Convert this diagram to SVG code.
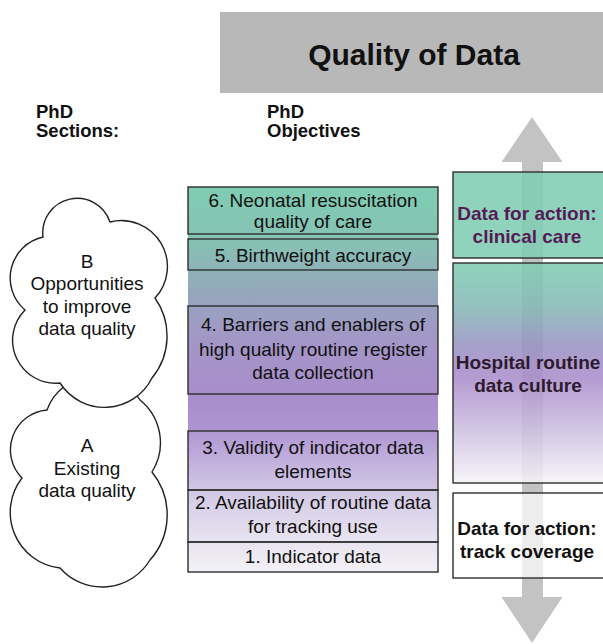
<svg xmlns="http://www.w3.org/2000/svg" width="603" height="644" viewBox="0 0 603 644">
<defs>
<linearGradient id="gCol" x1="0" y1="187" x2="0" y2="572" gradientUnits="userSpaceOnUse">
<stop offset="0" stop-color="#7fcdb3"/>
<stop offset="0.14" stop-color="#86c2b3"/>
<stop offset="0.22" stop-color="#8fb2b7"/>
<stop offset="0.3" stop-color="#98a3bf"/>
<stop offset="0.4" stop-color="#a396c7"/>
<stop offset="0.55" stop-color="#a98dcc"/>
<stop offset="0.63" stop-color="#ae95d0"/>
<stop offset="0.7" stop-color="#bfacdc"/>
<stop offset="0.79" stop-color="#d2c8e5"/>
<stop offset="0.92" stop-color="#e8e4f0"/>
<stop offset="1" stop-color="#f3f1f6"/>
</linearGradient>
<linearGradient id="gRight" x1="0" y1="263" x2="0" y2="483" gradientUnits="userSpaceOnUse">
<stop offset="0" stop-color="#80cdb3"/>
<stop offset="0.2" stop-color="#86b9b6"/>
<stop offset="0.38" stop-color="#9a92c4"/>
<stop offset="0.52" stop-color="#a98dcb"/>
<stop offset="0.72" stop-color="#c6b6de"/>
<stop offset="0.9" stop-color="#e5dfef"/>
<stop offset="1" stop-color="#f5f2f8"/>
</linearGradient>
</defs>
<style>
text{font-family:'Liberation Sans',Arial,sans-serif;fill:#111}
.h{font-weight:bold;font-size:18.5px}
.c{font-size:19px;text-anchor:middle}
.r{font-weight:bold;font-size:19px;text-anchor:middle}
.box{fill:none;stroke:#2e2e2e;stroke-width:1.4}
.cloud{fill:#fff;stroke:#222;stroke-width:1.4}
.rb{stroke:#2e2e2e;stroke-width:1.4}
</style>
<rect width="603" height="644" fill="#fff"/>

<g id="header">
<rect x="220" y="12" width="390" height="81" fill="#b8b8b8"/>
<text x="414" y="65" style="font-weight:bold;font-size:30px;text-anchor:middle">Quality of Data</text>
</g>

<g id="labels">
<text class="h" x="36" y="118">PhD</text>
<text class="h" x="36" y="137">Sections:</text>
<text class="h" x="267" y="118">PhD</text>
<text class="h" x="267" y="137">Objectives</text>
</g>

<g id="connectors">
<path id="arrow" d="M532,117 L562.5,162 L543,162 L543,597 L562.5,597 L532,643 L501.5,597 L522,597 L522,162 L501.5,162 Z" fill="#c3c3c3"/>
</g>

<g id="cloudA">
<path class="cloud" d="M47,410 A52,52 0 0 1 140,400 A55,55 0 0 1 152,472 A68,68 0 0 1 150,560 A56,56 0 0 1 60,568 A56,56 0 0 1 22,478 A40,40 0 0 1 47,410 Z"/>
<text class="c" x="87" y="452">A</text>
<text class="c" x="87" y="475">Existing</text>
<text class="c" x="87" y="497">data quality</text>
</g>

<g id="cloudB">
<path class="cloud" d="M43,237 A34.5,34.5 0 0 1 110,222 A46,46 0 0 1 155,298 A66,66 0 0 1 152,378 A53,53 0 0 1 60,383 A43,43 0 0 1 25,310 A42,42 0 0 1 43,237 Z"/>
<text class="c" x="87" y="268">B</text>
<text class="c" x="87" y="290">Opportunities</text>
<text class="c" x="87" y="313">to improve</text>
<text class="c" x="87" y="335">data quality</text>
</g>

<g id="column">
<rect x="188" y="187" width="250" height="385" fill="url(#gCol)"/>
</g>

<g id="obj6">
<rect class="box" x="188" y="187" width="250" height="47"/>
<text class="c" x="313" y="207">6. Neonatal resuscitation</text>
<text class="c" x="313" y="228">quality of care</text>
</g>
<g id="obj5">
<rect class="box" x="188" y="239" width="250" height="31"/>
<text class="c" x="313" y="262">5. Birthweight accuracy</text>
</g>
<g id="obj4">
<rect class="box" x="188" y="306" width="250" height="88"/>
<text class="c" x="313" y="331">4. Barriers and enablers of</text>
<text class="c" x="313" y="356">high quality routine register</text>
<text class="c" x="313" y="379">data collection</text>
</g>
<g id="obj3">
<rect class="box" x="188" y="431" width="250" height="59"/>
<text class="c" x="313" y="454">3. Validity of indicator data</text>
<text class="c" x="313" y="478">elements</text>
</g>
<g id="obj2">
<rect class="box" x="188" y="490" width="250" height="52"/>
<text class="c" x="313" y="509">2. Availability of routine data</text>
<text class="c" x="313" y="533">for tracking use</text>
</g>
<g id="obj1">
<rect class="box" x="188" y="542" width="250" height="30"/>
<text class="c" x="313" y="563">1. Indicator data</text>
</g>

<g id="clinical">
<rect class="rb" x="453" y="172" width="160" height="86" fill="#80cdb3" fill-opacity="0.88"/>
<text class="r" x="527" y="220" style="fill:#561a56">Data for action:</text>
<text class="r" x="527" y="243" style="fill:#561a56">clinical care</text>
</g>
<g id="culture">
<rect class="rb" x="453" y="263" width="160" height="220" fill="url(#gRight)" fill-opacity="0.88"/>
<text class="r" x="528" y="369" style="fill:#2e1a2e">Hospital routine</text>
<text class="r" x="528" y="392" style="fill:#2e1a2e">data culture</text>
</g>
<g id="coverage">
<rect class="rb" x="453" y="493" width="160" height="85" fill="#fff" fill-opacity="0.7"/>
<text class="r" x="527" y="535">Data for action:</text>
<text class="r" x="527" y="558">track coverage</text>
</g>
</svg>
